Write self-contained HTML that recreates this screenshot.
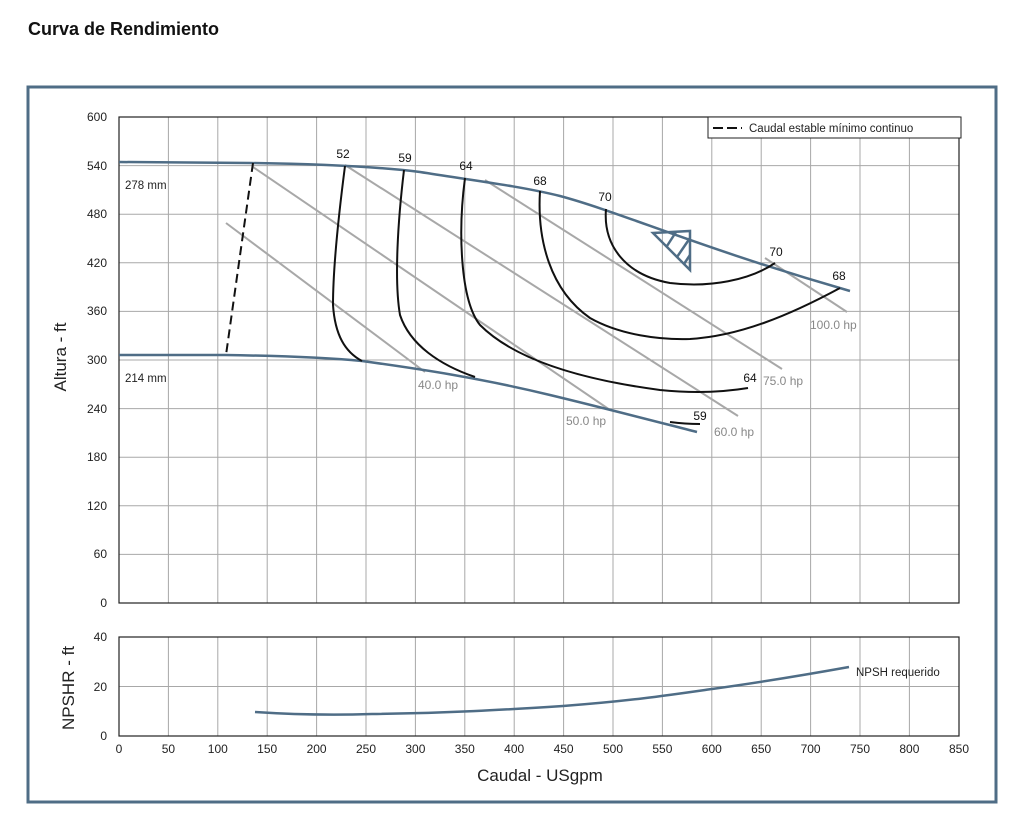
<!DOCTYPE html>
<html><head><meta charset="utf-8"><style>
body{margin:0;background:#fff;width:1024px;height:836px;overflow:hidden}
svg{position:absolute;left:0;top:0}
text{font-family:"Liberation Sans",sans-serif}
</style></head><body>
<svg width="1024" height="836" viewBox="0 0 1024 836">
<text x="28" y="35" font-size="18" font-weight="bold" fill="#111">Curva de Rendimiento</text>
<rect x="28" y="87" width="968" height="715" fill="none" stroke="#4f6d86" stroke-width="3"/>
<g stroke="#a8a8a8" stroke-width="1">
<line x1="168.4" y1="117" x2="168.4" y2="603"/><line x1="217.8" y1="117" x2="217.8" y2="603"/>
<line x1="267.2" y1="117" x2="267.2" y2="603"/><line x1="316.6" y1="117" x2="316.6" y2="603"/>
<line x1="366" y1="117" x2="366" y2="603"/><line x1="415.4" y1="117" x2="415.4" y2="603"/>
<line x1="464.8" y1="117" x2="464.8" y2="603"/><line x1="514.2" y1="117" x2="514.2" y2="603"/>
<line x1="563.6" y1="117" x2="563.6" y2="603"/><line x1="613" y1="117" x2="613" y2="603"/>
<line x1="662.4" y1="117" x2="662.4" y2="603"/><line x1="711.8" y1="117" x2="711.8" y2="603"/>
<line x1="761.2" y1="117" x2="761.2" y2="603"/><line x1="810.6" y1="117" x2="810.6" y2="603"/>
<line x1="860" y1="117" x2="860" y2="603"/><line x1="909.4" y1="117" x2="909.4" y2="603"/>
<line x1="119" y1="165.6" x2="959" y2="165.6"/><line x1="119" y1="214.2" x2="959" y2="214.2"/>
<line x1="119" y1="262.8" x2="959" y2="262.8"/><line x1="119" y1="311.4" x2="959" y2="311.4"/>
<line x1="119" y1="360" x2="959" y2="360"/><line x1="119" y1="408.6" x2="959" y2="408.6"/>
<line x1="119" y1="457.2" x2="959" y2="457.2"/><line x1="119" y1="505.8" x2="959" y2="505.8"/>
<line x1="119" y1="554.4" x2="959" y2="554.4"/>
<line x1="168.4" y1="637" x2="168.4" y2="736"/><line x1="217.8" y1="637" x2="217.8" y2="736"/>
<line x1="267.2" y1="637" x2="267.2" y2="736"/><line x1="316.6" y1="637" x2="316.6" y2="736"/>
<line x1="366" y1="637" x2="366" y2="736"/><line x1="415.4" y1="637" x2="415.4" y2="736"/>
<line x1="464.8" y1="637" x2="464.8" y2="736"/><line x1="514.2" y1="637" x2="514.2" y2="736"/>
<line x1="563.6" y1="637" x2="563.6" y2="736"/><line x1="613" y1="637" x2="613" y2="736"/>
<line x1="662.4" y1="637" x2="662.4" y2="736"/><line x1="711.8" y1="637" x2="711.8" y2="736"/>
<line x1="761.2" y1="637" x2="761.2" y2="736"/><line x1="810.6" y1="637" x2="810.6" y2="736"/>
<line x1="860" y1="637" x2="860" y2="736"/><line x1="909.4" y1="637" x2="909.4" y2="736"/>
<line x1="119" y1="686.5" x2="959" y2="686.5"/>
</g>
<rect x="119" y="117" width="840" height="486" fill="none" stroke="#222" stroke-width="1.2"/>
<rect x="119" y="637" width="840" height="99" fill="none" stroke="#222" stroke-width="1.2"/>
<g font-size="12" fill="#222" text-anchor="end">
<text x="107" y="121">600</text><text x="107" y="170">540</text><text x="107" y="218">480</text>
<text x="107" y="267">420</text><text x="107" y="315">360</text><text x="107" y="364">300</text>
<text x="107" y="413">240</text><text x="107" y="461">180</text><text x="107" y="510">120</text>
<text x="107" y="558">60</text><text x="107" y="607">0</text>
<text x="107" y="641">40</text><text x="107" y="691">20</text><text x="107" y="740">0</text>
</g>
<g font-size="12" fill="#222" text-anchor="middle">
<text x="119" y="753">0</text><text x="168.4" y="753">50</text><text x="217.8" y="753">100</text>
<text x="267.2" y="753">150</text><text x="316.6" y="753">200</text><text x="366" y="753">250</text>
<text x="415.4" y="753">300</text><text x="464.8" y="753">350</text><text x="514.2" y="753">400</text>
<text x="563.6" y="753">450</text><text x="613" y="753">500</text><text x="662.4" y="753">550</text>
<text x="711.8" y="753">600</text><text x="761.2" y="753">650</text><text x="810.6" y="753">700</text>
<text x="860" y="753">750</text><text x="909.4" y="753">800</text><text x="959" y="753">850</text>
</g>
<text x="540" y="781" font-size="17" text-anchor="middle" fill="#222">Caudal - USgpm</text>
<text transform="translate(66,357) rotate(-90)" font-size="17" text-anchor="middle" fill="#222">Altura - ft</text>
<text transform="translate(74,688) rotate(-90)" font-size="17" text-anchor="middle" fill="#222">NPSHR - ft</text>
<rect x="708" y="117" width="253" height="21" fill="#fff" stroke="#222" stroke-width="1"/>
<line x1="713" y1="128" x2="742" y2="128" stroke="#111" stroke-width="2" stroke-dasharray="10,4"/>
<text x="749" y="132" font-size="11.5" fill="#222">Caudal estable mínimo continuo</text>
<g stroke="#a8a8a8" stroke-width="2" fill="none">
<line x1="226" y1="223" x2="425" y2="372"/>
<line x1="253" y1="167" x2="610" y2="410"/>
<line x1="345" y1="165" x2="738" y2="416"/>
<line x1="485" y1="180" x2="782" y2="369"/>
<line x1="765" y1="258" x2="847" y2="312"/>
</g>
<g font-size="12" fill="#888">
<text x="418" y="389">40.0 hp</text><text x="566" y="425">50.0 hp</text>
<text x="714" y="436">60.0 hp</text><text x="763" y="385">75.0 hp</text><text x="810" y="329">100.0 hp</text>
</g>
<g stroke="#4f6d86" stroke-width="2.5" fill="none">
<path d="M119,162 L250,163 C320,164 380,167 420,172 C470,180 520,186 560,196 C620,212 700,248 850,291"/>
<path d="M119,355 L225,355 C290,356 330,358 362,361 C420,369 480,378 550,395 C600,407 650,420 697,432"/>
</g>
<line x1="253" y1="163" x2="226" y2="355" stroke="#111" stroke-width="2" stroke-dasharray="9,5"/>
<g stroke="#111" stroke-width="2" fill="none">
<path d="M345,166 C338,220 333,270 333,305 C335,335 345,352 362,361"/>
<path d="M404,170 C398,220 394,280 400,315 C410,345 440,365 475,377"/>
<path d="M465,178 C458,230 460,300 480,325 C520,365 600,382 660,390 C700,394 730,391 748,388"/>
<path d="M540,191 C537,240 550,290 590,318 C620,335 660,340 690,339 C740,336 790,315 840,288"/>
<path d="M606,209 C603,245 625,275 670,283 C710,288 750,280 775,263"/>
<path d="M670,422 C685,424 695,424 700,424"/>
</g>
<g font-size="12" fill="#111" text-anchor="middle">
<text x="343" y="158">52</text><text x="405" y="162">59</text><text x="466" y="170">64</text>
<text x="540" y="185">68</text><text x="605" y="201">70</text><text x="776" y="256">70</text>
<text x="839" y="280">68</text><text x="750" y="382">64</text><text x="700" y="420">59</text>
</g>
<g stroke="#4f6d86" stroke-width="2.5" fill="none">
<path d="M653,233 L690,231 L690,270 Z"/>
<line x1="667" y1="246" x2="676" y2="232"/><line x1="677" y1="257" x2="690" y2="238"/><line x1="684" y1="264" x2="690" y2="255"/>
</g>
<text x="125" y="189" font-size="11.5" fill="#222">278 mm</text>
<text x="125" y="382" font-size="11.5" fill="#222">214 mm</text>
<path d="M255,712 C300,715 340,715 372,714 C450,713 500,710 563,706 C630,701 670,695 712,689 C770,681 810,674 849,667" stroke="#4f6d86" stroke-width="2.5" fill="none"/>
<text x="856" y="676" font-size="11.5" fill="#222">NPSH requerido</text>
</svg>
</body></html>
